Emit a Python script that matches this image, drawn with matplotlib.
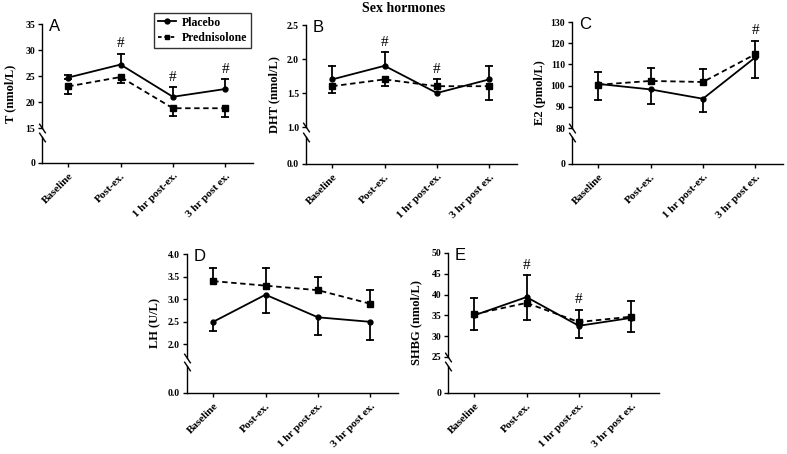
import numpy as np
import matplotlib.pyplot as plt
from matplotlib.lines import Line2D

W, H = 787, 454

labels = ['Baseline', 'Post-ex.', '1 hr post-ex.', '3 hr post ex.']

# A - T (nmol/L)
t_plac = [24.7, 27.2, 21.0, 22.5]
t_plac_lo = [0.3, 0, 0, 0]
t_plac_hi = [0.5, 2.1, 1.8, 1.9]
t_pred = [23.0, 24.8, 18.8, 18.8]
t_pred_lo = [1.5, 1.2, 1.4, 1.6]
t_pred_hi = [0, 0, 0, 0]
t_sig = [1, 2, 3]

# B - DHT (nmol/L)
dht_plac = [1.7, 1.9, 1.5, 1.7]
dht_plac_lo = [0, 0, 0, 0]
dht_plac_hi = [0.2, 0.2, 0, 0.2]
dht_pred = [1.6, 1.7, 1.6, 1.6]
dht_pred_lo = [0.1, 0.1, 0, 0.2]
dht_pred_hi = [0, 0, 0.1, 0]
dht_sig = [1, 2]

# C - E2 (pmol/L)
e2_plac = [100.8, 98.2, 93.8, 113.3]
e2_plac_lo = [7.5, 7.0, 6.2, 9.6]
e2_plac_hi = [0, 0, 0, 0]
e2_pred = [100.4, 102.2, 101.7, 114.8]
e2_pred_lo = [0, 0, 0, 0]
e2_pred_hi = [5.8, 5.9, 5.9, 6.4]
e2_sig = [3]

# D - LH (U/L)
lh_plac = [2.5, 3.1, 2.6, 2.5]
lh_plac_lo = [0.2, 0.4, 0.4, 0.4]
lh_plac_hi = [0, 0, 0, 0]
lh_pred = [3.4, 3.3, 3.2, 2.9]
lh_pred_lo = [0, 0, 0, 0]
lh_pred_hi = [0.3, 0.4, 0.3, 0.3]
lh_sig = []

# E - SHBG (nmol/L)
shbg_plac = [35.0, 39.4, 32.5, 34.4]
shbg_plac_lo = [0, 0, 3.0, 3.3]
shbg_plac_hi = [4.3, 5.2, 0, 0]
shbg_pred = [35.3, 38.0, 33.4, 34.7]
shbg_pred_lo = [3.9, 4.2, 0, 0]
shbg_pred_hi = [0, 0, 3.0, 3.8]
shbg_sig = [1, 2]

plt.rcParams['font.family'] = 'Liberation Serif'
plt.rcParams['font.weight'] = 'bold'
plt.rcParams['axes.linewidth'] = 1.0

fig = plt.figure(figsize=(W / 100, H / 100), dpi=100)


def rect(x0, y0, x1, y1):
    # pixel box (top-left origin) -> figure fraction
    return [x0 / W, 1 - y1 / H, (x1 - x0) / W, (y1 - y0) / H]


def err_bars(ax, x, y, lo, hi):
    y = np.array(y)
    lo = np.array(lo)
    hi = np.array(hi)
    for i in range(len(x)):
        for end in (y[i] - lo[i], y[i] + hi[i]):
            if end != y[i]:
                ax.plot([x[i], x[i]], [y[i], end], color='k', lw=1.3, zorder=2)
                ax.plot([x[i]], [end], marker='_', ms=6, mew=1.3, color='k', zorder=2)


def panel(letter, ylabel, px, ylim, yticks, fmt, zero_lbl,
          plac, plac_lo, plac_hi, pred, pred_lo, pred_hi, sig):
    x0, x1, y_top, y_brk, y_low, y_zero = px
    x = np.arange(len(labels))
    ax = fig.add_axes(rect(x0, y_top, x1, y_brk))
    axb = fig.add_axes(rect(x0, y_low, x1, y_zero))

    err_bars(ax, x, plac, plac_lo, plac_hi)
    err_bars(ax, x, pred, pred_lo, pred_hi)
    ax.plot(x, plac, color='k', lw=1.3, marker='o', ms=3.5, zorder=3)
    ax.plot(x, pred, color='k', lw=1.3, ls=(0, (3, 2)), marker='s', ms=4, zorder=3)

    tops = np.maximum(np.array(plac) + np.array(plac_hi), np.array(pred) + np.array(pred_hi))
    for i in sig:
        ax.annotate('#', xy=(x[i], tops[i]), xytext=(0, 7), textcoords='offset points',
                    ha='center', va='center', fontsize=11, fontweight='normal')

    for a in (ax, axb):
        a.set_xlim(-0.5, 3.53)
        a.spines['top'].set_visible(False)
        a.spines['right'].set_visible(False)
        a.tick_params(axis='y', direction='out', length=3, width=1, pad=2, labelsize=7)
        a.patch.set_alpha(0)

    ax.spines['bottom'].set_visible(False)
    ax.set_xticks([])
    ax.set_ylim(*ylim)
    ax.set_yticks(yticks)
    ax.set_yticklabels([fmt.format(v) for v in yticks])

    axb.set_ylim(0, 1)
    axb.set_yticks([0])
    axb.set_yticklabels([zero_lbl])
    axb.set_xticks(x)
    axb.set_xticklabels(labels, rotation=45, ha='right', rotation_mode='anchor', fontsize=8)
    axb.tick_params(axis='x', direction='out', length=3, width=1, pad=3)

    # axis break marks
    kw = dict(marker=[(-1, 1.5), (1, -1.5)], markersize=7, linestyle='none',
              color='k', mec='k', mew=1, clip_on=False)
    ax.plot([0], [0], transform=ax.transAxes, **kw)
    axb.plot([0], [1], transform=axb.transAxes, **kw)

    fig.text((x0 - 32) / W, 1 - ((y_top + y_zero) / 2) / H, ylabel, rotation=90,
             ha='center', va='center', fontsize=9)
    fig.text((x0 + 7) / W, 1 - (y_top - 5) / H, letter, ha='left', va='top',
             fontsize=12, fontweight='normal', family='Liberation Sans')
    return ax


axA = panel('A', 'T (nmol/L)', (42, 253, 24, 128, 137, 163), (15, 35),
            [15, 20, 25, 30, 35], '{:g}', '0',
            t_plac, t_plac_lo, t_plac_hi, t_pred, t_pred_lo, t_pred_hi, t_sig)
panel('B', 'DHT (nmol/L)', (306, 517, 25, 127, 137, 164), (1.0, 2.5),
      [1.0, 1.5, 2.0, 2.5], '{:.1f}', '0.0',
      dht_plac, dht_plac_lo, dht_plac_hi, dht_pred, dht_pred_lo, dht_pred_hi, dht_sig)
panel('C', 'E2 (pmol/L)', (572, 783, 22, 128, 137, 164), (80, 130),
      [80, 90, 100, 110, 120, 130], '{:g}', '0',
      e2_plac, e2_plac_lo, e2_plac_hi, e2_pred, e2_pred_lo, e2_pred_hi, e2_sig)
panel('D', 'LH (U/L)', (187, 398, 254, 358, 366, 393), (1.7, 4.0),
      [2.0, 2.5, 3.0, 3.5, 4.0], '{:.1f}', '0.0',
      lh_plac, lh_plac_lo, lh_plac_hi, lh_pred, lh_pred_lo, lh_pred_hi, lh_sig)
panel('E', 'SHBG (nmol/L)', (448, 659, 253, 357, 366, 393), (25, 50),
      [25, 30, 35, 40, 45, 50], '{:g}', '0',
      shbg_plac, shbg_plac_lo, shbg_plac_hi, shbg_pred, shbg_pred_lo, shbg_pred_hi, shbg_sig)

fig.text(404 / W, 1 - 9 / H, 'Sex hormones', ha='center', va='center', fontsize=10)

handles = [Line2D([], [], color='k', lw=1.3, marker='o', ms=3.5),
           Line2D([], [], color='k', lw=1.3, ls=(0, (2, 1.5)), marker='s', ms=3.5)]
leg = fig.legend(handles, ['Placebo', 'Prednisolone'], loc='upper left',
                 bbox_to_anchor=(154 / W, 1 - 13 / H), borderaxespad=0,
                 frameon=True, fancybox=False, fontsize=8.5, handlelength=1.6,
                 handletextpad=0.5, borderpad=0.3, labelspacing=0.3)
leg.get_frame().set_edgecolor('k')
leg.get_frame().set_linewidth(1.0)

fig.savefig('out.png', dpi=100)
